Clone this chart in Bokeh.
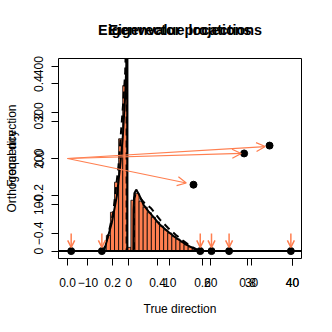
import math
from bokeh.plotting import figure
from bokeh.models import (Range1d, LinearAxis, FixedTicker, Arrow, OpenHead,
                          Span, ColumnDataSource)
from bokeh.embed import file_html
from bokeh.resources import INLINE

# ---------------- data ----------------
# histogram of eigenvalues (bins of width 1 centred on integers)
bin_centers = list(range(-6, 18))
bin_counts = [2, 34, 84, 149, 243, 358, 8, 110, 125, 108, 95, 83, 73, 63, 54, 46,
              39, 32, 26, 20, 14, 9, 5, 1]

# solid density curve (frequency scale)
solid_x = [-6.6, -5.9, -5.37, -4.15, -2.92, -2.12, -1.46, -0.9, -0.65, -0.45, -0.35,
           -0.35, 1.1, 1.15, 1.35, 1.8, 2.5, 3.6, 4.8, 6.0, 7.5, 9.3, 11, 12.5, 14,
           15.8, 16.6, 17.2]
solid_y = [0, 5, 23, 62, 120, 185, 250, 336, 395, 470, 700, 0, 0, 90, 125, 133, 122,
           100, 86, 74, 58, 44, 32, 23, 14, 6, 2, 0]

# dashed (theoretical) density curve
dash_x = [-6.9, -6.0, -5.2, -3.83, -2.53, -1.31, -0.9, -0.65, -0.55, -0.55, 1.25,
          1.25, 1.6, 2.5, 3.6, 5.5, 7.6, 9.6, 11.5, 13.3, 15, 16.5, 17.5]
dash_y = [0, 6, 30, 83, 185, 330, 387, 470, 700, 0, 0, 114, 121, 118, 106, 92, 68,
          50, 35, 22, 11, 4, 0]

# eigenvalue locations (on the histogram axis)
eig_values = [-14.1, -6.6, 17.45, 20.2, 24.5, 39.6]
eig_arrow_top = 38
eig_arrow_tip = 8

# eigenvector projections
true_dir = [0.56, 0.785, 0.898]
orth_dir = [-0.14, 0.027, 0.069]
arrow_end_true = [0.528, 0.772, 0.879]
arrow_end_orth = [-0.131, 0.027, 0.064]
origin_true = 0.0
origin_orth = 0.0

# axis ticks
true_ticks = [0.0, 0.2, 0.4, 0.6, 0.8, 1.0]
true_labels = ["0.0", "0.2", "0.4", "0.6", "0.8", "1.0"]
eig_ticks = [-10, 0, 10, 20, 30, 40]
eig_labels = ["\u221210", "0", "10", "20", "30", "40"]
orth_ticks = [-0.4, -0.2, 0.0, 0.2, 0.4]
orth_labels = ["\u22120.4", "\u22120.2", "0.0", "0.2", "0.4"]
freq_ticks = [0, 100, 200, 300, 400]
freq_labels = ["0", "100", "200", "300", "400"]

# titles (two overlaid plots)
titles = ["Eigenvector projections", "Eigenvalue locations"]
y_titles = ["Orthogonal direction", "Frequency"]
x_title = "True direction"

# data limits (R style 4% extension)
true_lim = (0.0, 1.0)
orth_lim = (-0.495, 0.495)
eig_lim = (-15.0, 40.0)
freq_lim = (0.0, 400.6)

def ext(lim):
    d = (lim[1] - lim[0]) * 0.04
    return Range1d(lim[0] - d, lim[1] + d)

CORAL = "#FF7F50"
FONT = "Liberation Sans"

xr = ext(true_lim)
yr = ext(orth_lim)
p = figure(width=324, height=324, x_range=xr, y_range=yr, title=None,
           output_backend="svg", toolbar_location=None,
           x_axis_type=None, y_axis_type=None,
           min_border_left=58, min_border_right=23, min_border_top=58,
           min_border_bottom=66)
p.extra_x_ranges = {"eig": ext(eig_lim)}
p.extra_y_ranges = {"freq": ext(freq_lim)}
p.xgrid.visible = False
p.ygrid.visible = False
p.outline_line_color = "black"
p.outline_line_width = 1
p.background_fill_color = "white"
p.border_fill_color = "white"

def map_to(v, src, dst):
    return round(dst.start + (v - src.start) * (dst.end - dst.start) / (src.end - src.start), 7)

# ---- combined bottom axis ----
xt = [round(t, 7) for t in true_ticks] + [map_to(t, p.extra_x_ranges["eig"], xr) for t in eig_ticks]
xl = true_labels + eig_labels
xa = LinearAxis(ticker=FixedTicker(ticks=xt, minor_ticks=[]),
                major_label_overrides={t: l for t, l in zip(xt, xl)},
                axis_label=x_title, axis_label_standoff=12)
# ---- combined left axis ----
yt = [round(t, 7) for t in orth_ticks] + [map_to(t, p.extra_y_ranges["freq"], yr) for t in freq_ticks]
yl = orth_labels + freq_labels
ya = LinearAxis(ticker=FixedTicker(ticks=yt, minor_ticks=[]),
                major_label_overrides={t: l for t, l in zip(yt, yl)},
                major_label_orientation="parallel",
                axis_label="\n".join(y_titles), axis_label_standoff=13,
                axis_label_text_line_height=0)
for ax, std in ((xa, 12), (ya, 8)):
    ax.major_tick_out = 7
    ax.major_tick_in = 0
    ax.minor_tick_out = 0
    ax.minor_tick_in = 0
    ax.axis_line_color = None
    ax.major_tick_line_color = "black"
    ax.major_label_standoff = std
    ax.major_label_text_font = FONT
    ax.major_label_text_font_size = "12px"
    ax.major_label_text_color = "black"
    ax.axis_label_text_font = FONT
    ax.axis_label_text_font_size = "12px"
    ax.axis_label_text_font_style = "normal"
    ax.axis_label_text_color = "black"
p.add_layout(xa, "below")
p.add_layout(ya, "left")

# text-only axis carrying the two overlaid titles
ta = LinearAxis(ticker=FixedTicker(ticks=[], minor_ticks=[]), axis_label="\n".join(titles),
                axis_label_standoff=21, axis_line_color=None,
                major_tick_out=0, major_tick_in=0, minor_tick_out=0, minor_tick_in=0,
                major_label_text_font_size="0px",
                axis_label_text_font=FONT, axis_label_text_font_size="14.4px",
                axis_label_text_font_style="bold", axis_label_text_color="black",
                axis_label_text_line_height=0)
p.add_layout(ta, "above")

# ---- histogram ----
hist = ColumnDataSource(dict(left=[c - 0.5 for c in bin_centers],
                             right=[c + 0.5 for c in bin_centers],
                             top=bin_counts, bottom=[0] * len(bin_counts)))
p.quad(left="left", right="right", top="top", bottom="bottom", source=hist,
       fill_color=CORAL, line_color="black", line_width=0.8,
       x_range_name="eig", y_range_name="freq")

p.line(solid_x, solid_y, line_color="black", line_width=2,
       x_range_name="eig", y_range_name="freq")
p.line(dash_x, dash_y, line_color="black", line_width=2, line_dash="7 5",
       x_range_name="eig", y_range_name="freq")

p.add_layout(Span(location=0, dimension="width", line_color="black", line_width=2,
                  y_range_name="freq"))

down = ColumnDataSource(dict(x0=eig_values, y0=[eig_arrow_top] * len(eig_values),
                             x1=eig_values, y1=[eig_arrow_tip] * len(eig_values)))
p.add_layout(Arrow(source=down, x_start="x0", y_start="y0", x_end="x1", y_end="y1",
                   line_color=CORAL, line_width=1.5,
                   end=OpenHead(size=7, line_color=CORAL, line_width=1.5),
                   x_range_name="eig", y_range_name="freq"))
p.scatter(eig_values, [0] * len(eig_values), size=7, color="black",
          x_range_name="eig", y_range_name="freq")

# ---- eigenvector projections ----
proj = ColumnDataSource(dict(x0=[origin_true] * 3, y0=[origin_orth] * 3,
                             x1=arrow_end_true, y1=arrow_end_orth))
p.add_layout(Arrow(source=proj, x_start="x0", y_start="y0", x_end="x1", y_end="y1",
                   line_color=CORAL, line_width=1.2,
                   end=OpenHead(size=9, line_color=CORAL, line_width=1.2)))
p.scatter(true_dir, orth_dir, size=7, color="black")

open("out.html", "w").write(file_html(p, INLINE))
